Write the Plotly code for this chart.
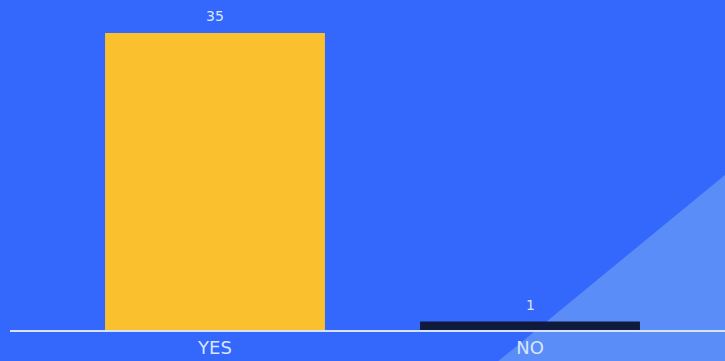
import plotly.graph_objects as go

categories = ["YES", "NO"]
values = [35, 1]
bar_colors = ["#FBC02D", "#0F1A3C"]

BG = "#3468FD"
TRI = "#5B8DF8"
TXT = "#D8E6FF"
FONT = "DejaVu Sans, Verdana, sans-serif"

fig = go.Figure()
fig.add_trace(go.Bar(
    x=[0, 1], y=values,
    width=0.698,
    marker=dict(color=bar_colors, line=dict(width=0)),
    hoverinfo="skip",
))

for i, v in enumerate(values):
    fig.add_annotation(
        x=i, y=v, text=str(v), showarrow=False,
        xanchor="center", yanchor="bottom", yshift=7,
        font=dict(family=FONT, size=14, color=TXT),
    )

fig.update_layout(
    width=725, height=361,
    margin=dict(l=10, r=0, t=0, b=31),
    paper_bgcolor=BG,
    plot_bgcolor="rgba(0,0,0,0)",
    showlegend=False,
    xaxis=dict(
        range=[-0.6508, 1.619],
        tickmode="array", tickvals=[0, 1], ticktext=categories,
        showgrid=False, zeroline=False,
        showline=True, linecolor="#D6E3FF", linewidth=2,
        ticks="", ticklen=0,
        tickfont=dict(family=FONT, size=18, color=TXT),
    ),
    yaxis=dict(
        range=[0, 38.89],
        visible=False, showgrid=False, zeroline=False,
    ),
    shapes=[dict(
        type="path", xref="paper", yref="paper", layer="below",
        path="M 0.6797,-0.1 L 1.0,0.4697 L 1.0,-0.1 Z",
        fillcolor=TRI, line=dict(width=0),
    )],
)

fig.write_html("out.html")
